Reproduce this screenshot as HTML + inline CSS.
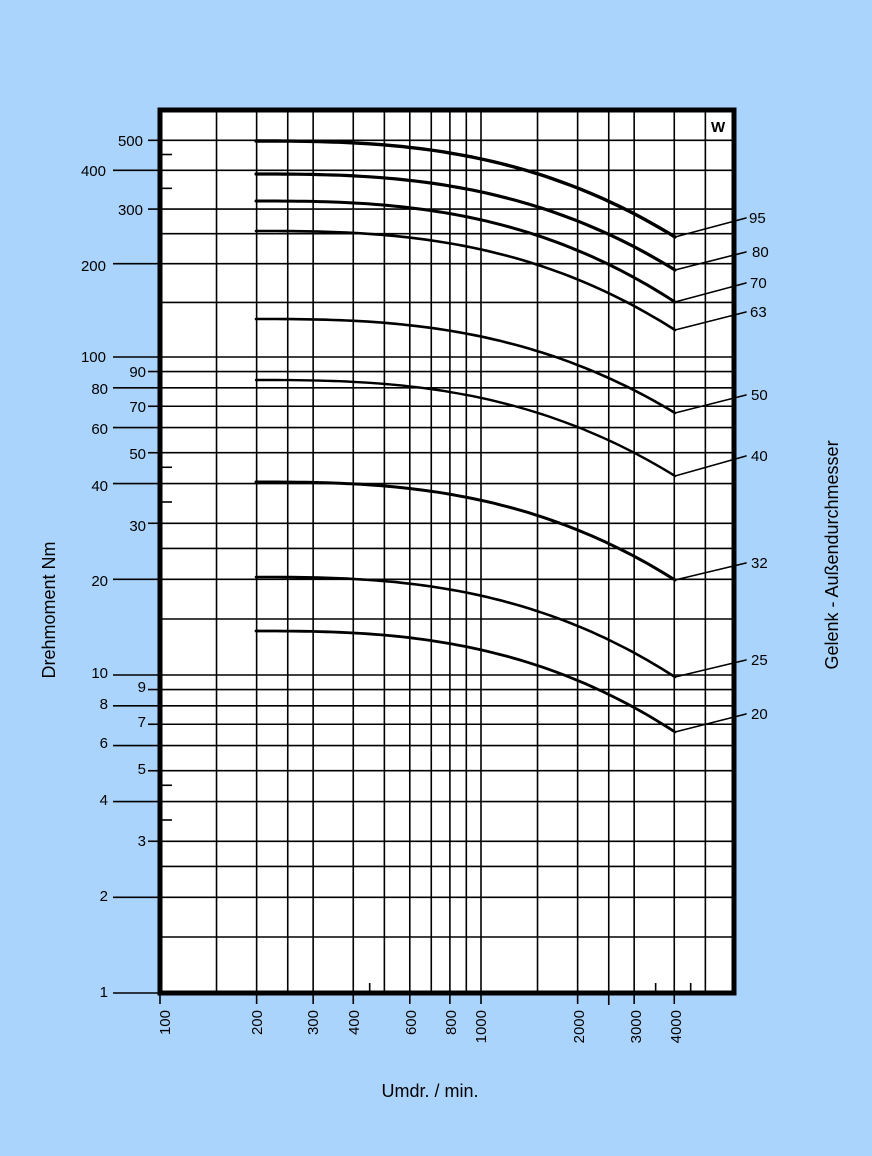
<!DOCTYPE html>
<html><head><meta charset="utf-8"><style>
html,body{margin:0;padding:0;background:#aad4fc;}
svg{display:block;font-family:"Liberation Sans",sans-serif;}
.t{font-size:15px;fill:#000;}
</style></head><body>
<svg id="s" width="872" height="1156" viewBox="0 0 872 1156" xmlns="http://www.w3.org/2000/svg">
<rect x="0" y="0" width="872" height="1156" fill="#aad4fc"/>
<rect x="160" y="110" width="574" height="883" fill="#fff"/>
<g id="grid" stroke="#000" stroke-width="1.6" fill="none"></g>
<g id="curves" stroke="#000" fill="none" stroke-linecap="round" stroke-linejoin="round"></g>
<rect x="160" y="110" width="574" height="883" fill="none" stroke="#000" stroke-width="5"/>
<text x="711" y="132" font-size="15" font-weight="bold">W</text>
<g class="t" text-anchor="end">
<text x="143" y="146">500</text><text x="106" y="176">400</text><text x="143" y="215">300</text>
<text x="106" y="271">200</text><text x="106" y="362">100</text><text x="146" y="377">90</text>
<text x="108" y="394">80</text><text x="146" y="412">70</text><text x="108" y="434">60</text>
<text x="146" y="459">50</text><text x="108" y="491">40</text><text x="146" y="531">30</text>
<text x="108" y="586">20</text><text x="108" y="678">10</text><text x="146" y="692">9</text>
<text x="108" y="709">8</text><text x="146" y="727">7</text><text x="108" y="748">6</text>
<text x="146" y="774">5</text><text x="108" y="805">4</text><text x="146" y="846">3</text>
<text x="108" y="901">2</text><text x="108" y="997">1</text>
</g>
<g class="t">
<text x="749" y="223">95</text><text x="752" y="257">80</text><text x="750" y="288">70</text>
<text x="750" y="317">63</text><text x="751" y="400">50</text><text x="751" y="461">40</text>
<text x="751" y="568">32</text><text x="751" y="665">25</text><text x="751" y="719">20</text>
</g>
<g class="t" text-anchor="end">
<text transform="translate(170,1010) rotate(-90)">100</text>
<text transform="translate(262,1010) rotate(-90)">200</text>
<text transform="translate(318,1010) rotate(-90)">300</text>
<text transform="translate(359,1010) rotate(-90)">400</text>
<text transform="translate(416,1010) rotate(-90)">600</text>
<text transform="translate(456,1010) rotate(-90)">800</text>
<text transform="translate(486,1010) rotate(-90)">1000</text>
<text transform="translate(584,1010) rotate(-90)">2000</text>
<text transform="translate(641,1010) rotate(-90)">3000</text>
<text transform="translate(681,1010) rotate(-90)">4000</text>
</g>
<text transform="translate(55,610) rotate(-90)" text-anchor="middle" font-size="18">Drehmoment Nm</text>
<text transform="translate(838,555) rotate(-90)" text-anchor="middle" font-size="18">Gelenk - Außendurchmesser</text>
<text x="430" y="1097" text-anchor="middle" font-size="18">Umdr. / min.</text>
</svg>
<script>
var NS="http://www.w3.org/2000/svg";
function L(g,x1,y1,x2,y2,w){var l=document.createElementNS(NS,"line");l.setAttribute("x1",x1);l.setAttribute("y1",y1);l.setAttribute("x2",x2);l.setAttribute("y2",y2);if(w)l.setAttribute("stroke-width",w);g.appendChild(l);}
var g=document.getElementById("grid");
function X(v){return 160+321*Math.log10(v/100);}
function Y(v){if(v>100)return 357-310*Math.log10(v/100);return 993-318*Math.log10(v);}
[150,200,250,300,400,500,600,700,800,900,1000,1500,2000,2500,3000,4000,5000].forEach(function(v){L(g,X(v),110,X(v),993);});
[1.5,2,2.5,3,4,5,6,7,8,9,10,15,20,25,30,40,50,60,70,80,90,100,150,200,250,300,400,500].forEach(function(v){L(g,160,Y(v),734,Y(v));});
var longT=[1,2,4,6,8,10,20,40,60,80,100,200,400],shortT=[3,5,7,9,30,50,70,90,300,500];
longT.forEach(function(v){L(g,113,Y(v),160,Y(v));});
shortT.forEach(function(v){L(g,148,Y(v),160,Y(v));});
[3.5,4.5,35,45,350,450].forEach(function(v){L(g,160,Y(v),172,Y(v));});
[100,200,300,400,600,800,1000,2000,3000,4000].forEach(function(v){L(g,X(v),993,X(v),1004);});
L(g,X(2500),993,X(2500),1005);
[450,3500,4500].forEach(function(v){L(g,X(v),993,X(v),983);});
var c=document.getElementById("curves");
var data=[[141,237,218,3.4],[174,270,252,3.2],[201,302,283,3],[231,330,312,2.6],[319,413,395,2.6],[380,476,456,2.4],[482,580,563,3],[577,677,660,2.6],[631,732,714,2.8]];
data.forEach(function(d){var p=document.createElementNS(NS,"path");var s="";for(var i=0;i<=60;i++){var t=i/60;var x=256+419*t;var y=d[0]+(d[1]-d[0])*Math.pow(t,2.7);s+=(i?"L":"M")+x.toFixed(1)+","+y.toFixed(1);}p.setAttribute("d",s);p.setAttribute("stroke-width",d[3]);c.appendChild(p);
L(c,675,d[1],746,d[2],1.6);});
</script>
</body></html>
